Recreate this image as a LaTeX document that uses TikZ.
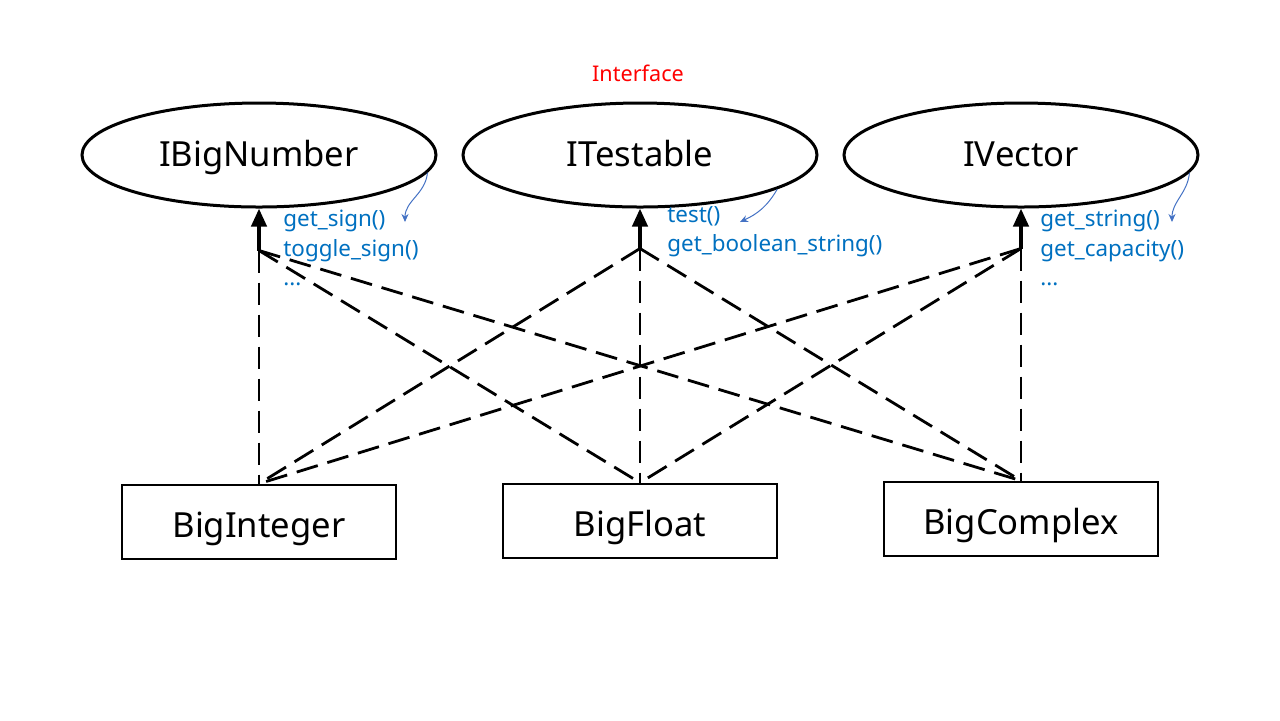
\documentclass[tikz,border=0pt]{standalone}
\usepackage{fontspec}
\setmainfont{Noto Sans}
\usetikzlibrary{shapes.geometric, arrows.meta, positioning}
\definecolor{notecol}{RGB}{0,112,192}
\definecolor{hintcol}{RGB}{68,114,196}

\begin{document}
\begin{tikzpicture}[
  x=0.5pt, y=-0.5pt,
  % Node styles
  iface/.style={
    ellipse, draw=black, line width=1.5pt, fill=white,
    minimum width=177pt, minimum height=52pt, inner sep=0pt,
    text height=14pt, text depth=3pt,
    font=\fontsize{17.3}{20}\selectfont
  },
  impl/.style={
    rectangle, draw=black, line width=1.3pt, fill=white,
    minimum width=137pt, minimum height=37pt, inner sep=0pt,
    text height=17pt, text depth=2pt,
    font=\fontsize{17.3}{20}\selectfont
  },
  note/.style={
    anchor=north west, inner sep=0pt, align=left, text=notecol,
    font=\fontsize{11.2}{14.6}\selectfont
  },
  % Arrow styles
  realize/.style={-{Triangle[length=9pt,width=7.5pt]}, line width=2pt},
  dep/.style={line width=1.4pt, dash pattern=on 11pt off 5pt},
  hint/.style={-{Stealth[length=4pt,width=3.5pt]}, draw=hintcol, line width=0.5pt}
]
\useasboundingbox (0,0) rectangle (1280,720);

%% ── Interfaces ───────────────────────────────────────────────
\node[text=red, font=\fontsize{10.8}{12}\selectfont] (title) at (638,73) {Interface};
\node[iface] (ibn) at (259,155)  {IBigNumber};
\node[iface] (its) at (640,155)  {ITestable};
\node[iface] (ivc) at (1021,155) {IVector};

%% ── Implementations ──────────────────────────────────────────
\node[impl] (bint) at (259,522)  {BigInteger};
\node[impl] (bflt) at (640,521)  {BigFloat};
\node[impl] (bcpx) at (1021,519) {BigComplex};

%% ── Junctions under the interfaces ───────────────────────────
\coordinate[below=21pt of ibn.south] (jn);
\coordinate[below=20pt of its.south] (jt);
\coordinate[below=20pt of ivc.south] (jv);

%% ── Dashed links: every class to every interface ─────────────
\foreach \j in {jn,jt,jv}
  \foreach \b in {bint,bflt,bcpx}
    \draw[dep] (\j) -- (\b.north);

\draw[realize] (jn) -- (ibn.south);
\draw[realize] (jt) -- (its.south);
\draw[realize] (jv) -- (ivc.south);

%% ── Method notes ─────────────────────────────────────────────
\node[note] (nbn) at (283,210) {get\_sign()\\toggle\_sign()\\...};
\node[note] (nts) at (667,206) {test()\\get\_boolean\_string()};
\node[note] (nvc) at (1040,210) {get\_string()\\get\_capacity()\\...};

\draw[hint] (ibn.-6)  to[out=-95,in=90]  (405,222);
\draw[hint] (its.-14) to[out=-120,in=25] (740,222);
\draw[hint] (ivc.-6)  to[out=-95,in=90]  (1172,222);

\end{tikzpicture}
\end{document}
